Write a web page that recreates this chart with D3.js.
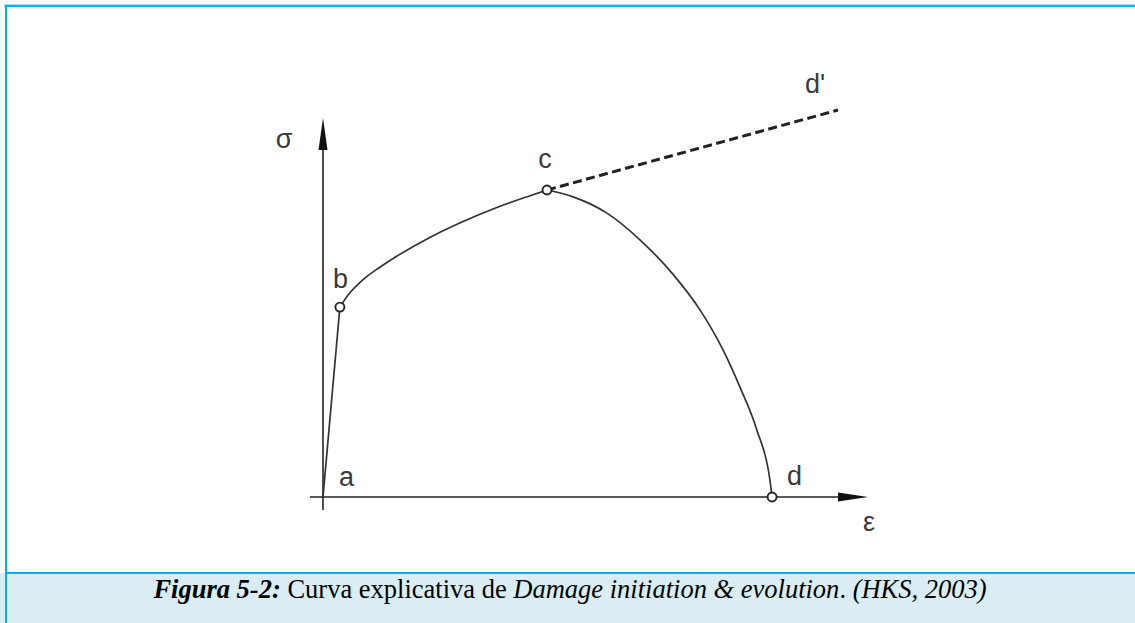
<!DOCTYPE html>
<html>
<head>
<meta charset="utf-8">
<script src="https://cdn.jsdelivr.net/npm/d3@7/dist/d3.min.js"></script>
<style>
  html, body { margin: 0; padding: 0; background: #fff; }
  svg { display: block; }
</style>
</head>
<body>
<svg width="1135" height="623"></svg>
<script>
// strain (eps) / stress (sigma) in arbitrary units
const elastic = [[0, 0], [0.031, 0.501]]
const hardening = [
  [0.031, 0.501], [0.046, 0.533], [0.073, 0.573], [0.105, 0.607], [0.136, 0.636],
  [0.196, 0.685], [0.257, 0.727], [0.319, 0.764], [0.380, 0.795], [0.411, 0.810],
]
const softening = [
  [0.411, 0.810], [0.459, 0.792], [0.521, 0.749], [0.582, 0.678], [0.642, 0.588],
  [0.692, 0.493], [0.734, 0.388], [0.765, 0.290], [0.796, 0.177], [0.820, 0.045],
  [0.824, 0],
]
const undamaged = [[0.411, 0.810], [0.945, 1.021]]
const markers = [[0.031, 0.501], [0.411, 0.810], [0.824, 0]]
const pointNames = ['a', 'b', 'c', 'd', "d'"]
const pointCoords = [[0, 0], [0.031, 0.501], [0.411, 0.810], [0.824, 0], [0.945, 1.021]]
const axisNames = ['σ', 'ε']
const captionParts = [
  { text: 'Figura 5-2:', style: 'italic', weight: 'bold' },
  { text: ' Curva explicativa de ', style: 'normal', weight: 'normal' },
  { text: 'Damage initiation & evolution', style: 'italic', weight: 'normal' },
  { text: '. ', style: 'normal', weight: 'normal' },
  { text: '(HKS, 2003)', style: 'italic', weight: 'normal' },
]

const svg = d3.select('svg')
const W = 1135
const H = 623

// frame + caption band
svg.append('rect').attr('x', 0).attr('y', 573).attr('width', W).attr('height', H - 573)
  .attr('fill', '#daedf4')
svg.append('line').attr('x1', 4).attr('x2', W).attr('y1', 5.5).attr('y2', 5.5)
  .attr('stroke', '#9fe0f7').attr('stroke-width', 3)
svg.append('line').attr('x1', 5).attr('x2', W).attr('y1', 6).attr('y2', 6)
  .attr('stroke', '#00b0f0').attr('stroke-width', 2)
svg.append('line').attr('x1', 6).attr('x2', 6).attr('y1', 5).attr('y2', H)
  .attr('stroke', '#00b0f0').attr('stroke-width', 2)
svg.append('line').attr('x1', 5).attr('x2', W).attr('y1', 573).attr('y2', 573)
  .attr('stroke', '#00b0f0').attr('stroke-width', 2)

const x = d3.scaleLinear().domain([0, 1]).range([323, 868])
const y = d3.scaleLinear().domain([0, 1]).range([497, 118])

const g = svg.append('g')

// axes with arrow heads
g.append('line').attr('x1', x(0)).attr('x2', x(0)).attr('y1', y(-0.034)).attr('y2', y(0.95))
  .attr('stroke', '#222').attr('stroke-width', 1.6)
g.append('line').attr('x1', x(-0.024)).attr('x2', x(0.96)).attr('y1', y(0)).attr('y2', y(0))
  .attr('stroke', '#222').attr('stroke-width', 1.6)
const arrowUp = d3.path()
arrowUp.moveTo(x(0), y(1))
arrowUp.lineTo(x(0) - 4.5, y(1) + 32)
arrowUp.lineTo(x(0) + 4.5, y(1) + 32)
arrowUp.closePath()
g.append('path').attr('d', arrowUp.toString()).attr('fill', '#111')
const arrowRight = d3.path()
arrowRight.moveTo(x(1), y(0))
arrowRight.lineTo(x(1) - 30, y(0) - 4.5)
arrowRight.lineTo(x(1) - 30, y(0) + 4.5)
arrowRight.closePath()
g.append('path').attr('d', arrowRight.toString()).attr('fill', '#111')

const line = d3.line().x((d) => x(d[0])).y((d) => y(d[1]))
const smooth = d3.line().x((d) => x(d[0])).y((d) => y(d[1])).curve(d3.curveMonotoneX)

g.append('path').attr('d', line(elastic))
  .attr('fill', 'none').attr('stroke', '#333').attr('stroke-width', 1.7)
g.append('path').attr('d', smooth(hardening))
  .attr('fill', 'none').attr('stroke', '#333').attr('stroke-width', 1.7)
g.append('path').attr('d', smooth(softening))
  .attr('fill', 'none').attr('stroke', '#333').attr('stroke-width', 1.7)
g.append('path').attr('d', line(undamaged))
  .attr('fill', 'none').attr('stroke', '#222').attr('stroke-width', 3)
  .attr('stroke-dasharray', '9,4.5')

g.selectAll('circle.pt')
  .data(markers)
  .join('circle')
  .attr('class', 'pt')
  .attr('cx', (d) => x(d[0]))
  .attr('cy', (d) => y(d[1]))
  .attr('r', 4.5)
  .attr('fill', '#fff')
  .attr('stroke', '#222')
  .attr('stroke-width', 1.9)

// label offsets from their points (px)
const labelOffsets = [[16, -11], [-7, -19], [-2, -22], [15, -12], [-33, -17]]
const labelAnchor = ['start', 'start', 'middle', 'start', 'start']
g.selectAll('text.pt')
  .data(pointNames)
  .join('text')
  .attr('class', 'pt')
  .attr('x', (d, i) => x(pointCoords[i][0]) + labelOffsets[i][0])
  .attr('y', (d, i) => y(pointCoords[i][1]) + labelOffsets[i][1])
  .attr('text-anchor', (d, i) => labelAnchor[i])
  .attr('font-family', 'Liberation Sans, Arial, sans-serif')
  .attr('font-size', 27)
  .attr('fill', '#3a3a3a')
  .text((d) => d)

g.append('text')
  .attr('x', x(0) - 39).attr('y', y(1) + 30)
  .attr('text-anchor', 'middle')
  .attr('font-family', 'Liberation Sans, Arial, sans-serif')
  .attr('font-size', 27).attr('fill', '#3a3a3a')
  .text(axisNames[0])
g.append('text')
  .attr('x', x(1) + 1).attr('y', y(0) + 34)
  .attr('text-anchor', 'middle')
  .attr('font-family', 'Liberation Sans, Arial, sans-serif')
  .attr('font-size', 27).attr('fill', '#3a3a3a')
  .text(axisNames[1])

// caption
const cap = svg.append('text')
  .attr('x', 570).attr('y', 598)
  .attr('text-anchor', 'middle')
  .attr('font-family', 'Liberation Serif, Times New Roman, serif')
  .attr('font-size', 26.5)
  .attr('fill', '#000')
cap.selectAll('tspan')
  .data(captionParts)
  .join('tspan')
  .attr('font-style', (d) => d.style)
  .attr('font-weight', (d) => d.weight)
  .style('white-space', 'pre')
  .text((d) => d.text)
</script>
</body>
</html>
